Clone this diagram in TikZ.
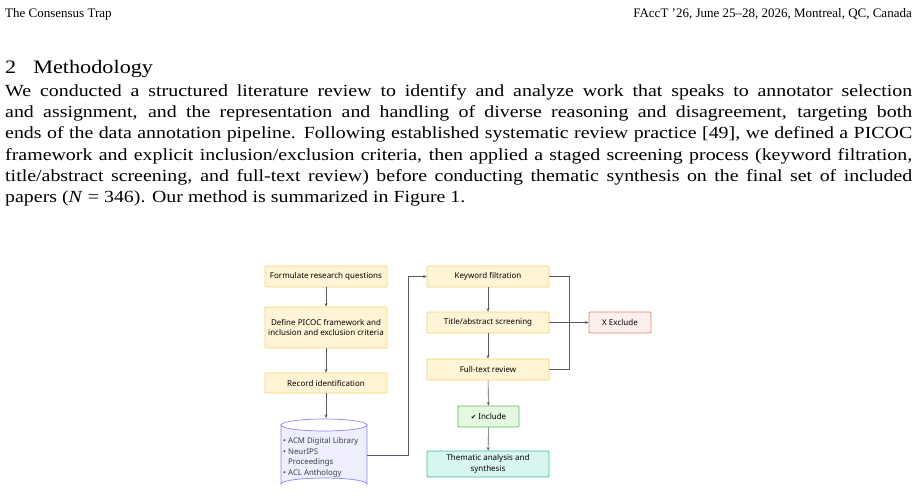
\documentclass[tikz,border=0pt]{standalone}
\usepackage{fontspec}
\setmainfont{Liberation Serif}
\newfontfamily\parafont{Liberation Serif}[FakeStretch=1.17]
\newfontfamily\diagfont{Noto Sans}
\newfontfamily\symfont{DejaVu Sans}
\usetikzlibrary{arrows.meta,positioning}
\definecolor{stepfill}{HTML}{FFF4D6}
\definecolor{stepdraw}{HTML}{F3D56F}
\definecolor{incfill}{HTML}{E5F8E2}
\definecolor{incdraw}{HTML}{5CBF5C}
\definecolor{synfill}{HTML}{D8F7F0}
\definecolor{syndraw}{HTML}{45B8A2}
\definecolor{exfill}{HTML}{FDEFEC}
\definecolor{exdraw}{HTML}{DE8A6C}
\definecolor{dbfill}{HTML}{EEEEFF}
\definecolor{dbdraw}{HTML}{8A8AF2}
\definecolor{flow}{HTML}{555866}
\tikzset{
  box/.style={draw=stepdraw,fill=stepfill,line width=0.8pt,rounded corners=1pt,
    font=\diagfont\fontsize{8}{10.3}\selectfont,align=center,inner sep=0pt},
  flowline/.style={draw=flow,line width=0.6pt},
  flowarrow/.style={flowline,-{Stealth[length=3.5pt,width=3pt]}}
}
\begin{document}
\begin{tikzpicture}[x=1pt,y=-1pt]
\useasboundingbox (0,0) rectangle (916,499);

% page text
\node[anchor=base west,inner sep=0pt,font=\fontsize{13}{14}\selectfont] (head) at (5,17) {The Consensus Trap};
\node[anchor=base east,inner sep=0pt,font=\fontsize{13}{14}\selectfont] (headr) at (912,17) {FAccT ’26, June 25–28, 2026, Montreal, QC, Canada};
\node[anchor=base west,inner sep=0pt,font=\parafont\fontsize{19}{20}\selectfont] (sec) at (5,73) {2\hspace{17pt}Methodology};
\node[anchor=north west,inner sep=0pt,text width=907pt,align=justify,
  font=\parafont\fontsize{17}{21.3}\selectfont] (para) at (5,84)
  {We conducted a structured literature review to identify and analyze work that speaks to annotator selection\linebreak and assignment, and the representation and handling of diverse reasoning and disagreement, targeting both\linebreak ends of the data annotation pipeline. Following established systematic review practice [49], we defined a PICOC\linebreak framework and explicit inclusion/exclusion criteria, then applied a staged screening process (keyword filtration,\linebreak title/abstract screening, and full-text review) before conducting thematic synthesis on the final set of included\linebreak papers (\emph{N} = 346). Our method is summarized in Figure~1.};

% left column
\node[box,minimum width=122pt,minimum height=21pt] (rq) at (326,276.5) {Formulate research questions};
\node[box,minimum width=122pt,minimum height=41pt] (picoc) at (326,327.5) {Define PICOC framework and\\inclusion and exclusion criteria};
\node[box,minimum width=122pt,minimum height=20pt] (rec) at (326,383) {Record identification};
\node[minimum width=86pt,minimum height=72pt,inner sep=0pt] (db) at (324,455) {};
\draw[draw=dbdraw,fill=dbfill,line width=0.7pt]
  (281,425) -- (281,484) arc[start angle=180,end angle=0,x radius=43pt,y radius=6pt]
  -- (367,425) arc[start angle=0,end angle=-180,x radius=43pt,y radius=6pt] -- cycle;
\draw[draw=dbdraw,line width=0.7pt] (281,425) arc[start angle=180,end angle=0,x radius=43pt,y radius=6pt];
\node[anchor=north west,inner sep=0pt,align=left,text=flow!70!black,
  font=\diagfont\fontsize{7.8}{10.9}\selectfont] (dbtext) at (283,437)
  {• ACM Digital Library\\• NeurIPS\\\phantom{• }Proceedings\\• ACL Anthology};

% right column
\node[box,minimum width=122pt,minimum height=21pt] (kw) at (488,276.5) {Keyword filtration};
\node[box,minimum width=122pt,minimum height=21pt] (ta) at (488,322.5) {Title/abstract screening};
\node[box,minimum width=122pt,minimum height=21pt] (ft) at (488,369.5) {Full-text review};
\node[box,draw=incdraw,fill=incfill,minimum width=61pt,minimum height=21pt] (inc) at (488.5,416.5) {{\symfont\fontsize{6.5}{8}\selectfont ✔} Include};
\node[box,draw=syndraw,fill=synfill,minimum width=122pt,minimum height=26pt] (syn) at (488,464) {Thematic analysis and\\synthesis};
\node[box,draw=exdraw,fill=exfill,minimum width=62pt,minimum height=21pt] (ex) at (620,322.5) {\textbf{X} Exclude};
\coordinate (merge) at (569,322.5);
\coordinate (jog) at (408,455);

% connectors
\draw[flowarrow] (rq) -- (picoc);
\draw[flowarrow] (picoc) -- (rec);
\draw[flowarrow] (rec) -- (326,418);
\draw[flowarrow] (367,455) -- (jog) |- (kw.west);
\draw[flowarrow] (kw) -- (ta);
\draw[flowarrow] (ta) -- (ft);
\draw[flowarrow] (ft) -- (inc);
\draw[flowarrow] (inc) -- (syn);
\draw[flowline] (kw.east) -| (merge);
\draw[flowline] (ft.east) -| (merge);
\draw[flowarrow] (ta.east) -- (ex.west);
\end{tikzpicture}
\end{document}
